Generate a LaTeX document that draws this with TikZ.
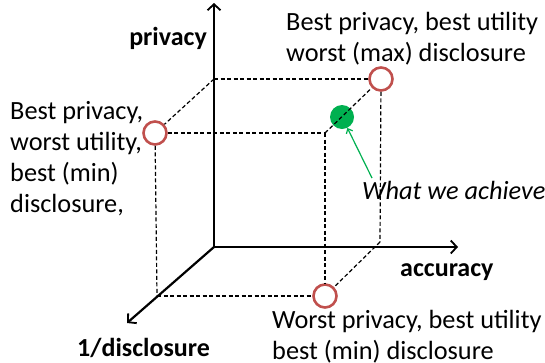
\documentclass[tikz,border=0pt]{standalone}
\usepackage{fontspec}
\setmainfont{Carlito}
\usetikzlibrary{arrows.meta}
\definecolor{cred}{HTML}{C0504D}
\definecolor{cgreen}{HTML}{00B050}
\begin{document}
\begin{tikzpicture}[x=1pt,y=-1pt,
 axis/.style={line width=2.2pt,-{Straight Barb[length=6pt,width=13pt,line width=1.8pt]}},
 edge/.style={line width=1.2pt, dash pattern=on 4pt off 2.5pt},
 ring/.style={circle, draw=cred, fill=white, line width=2.6pt, minimum size=23pt, inner sep=0pt},
 dot/.style={circle, fill=cgreen, minimum size=24pt, inner sep=0pt},
 lbl/.style={font=\fontsize{26.3}{31}\selectfont, anchor=base west, inner sep=0pt, align=left},
 ax/.style={font=\bfseries\fontsize{26}{31}\selectfont, inner sep=0pt}]
\useasboundingbox (0,0) rectangle (545,362);
% cube corners
\coordinate (O) at (214,247);
\coordinate (ptip) at (214,3);
\coordinate (atip) at (458,247);
\coordinate (dtip) at (127,323);
\coordinate (bt) at (214,79);
\coordinate (rb) at (380,242);
\coordinate (ftr) at (325,133);
\coordinate (fbl) at (157,296);
% points
\node[dot] (G) at (342,117) {};
\node[ring] (TR) at (381,79) {};
\node[ring] (TL) at (155,133) {};
\node[ring] (BR) at (325,296) {};
% dashed cube edges
\draw[edge] (bt) -- (TR);
\draw[edge] (bt) -- (TL);
\draw[edge] (TL) -- (ftr);
\draw[edge] (TL) -- (fbl);
\draw[edge] (fbl) -- (BR);
\draw[edge] (ftr) -- (BR);
\draw[edge] (ftr) -- (TR);
\draw[edge] (TR) -- (rb);
\draw[edge] (rb) -- (BR);
% axes
\draw[axis] (O) -- (ptip);
\draw[axis] (O) -- (atip);
\draw[axis] (O) -- (dtip);
% labels
\node[ax, anchor=base east] (lp) at (207,45) {privacy};
\node[ax, anchor=base west] (la) at (400,276) {accuracy};
\node[ax, anchor=base west] (ld) at (77,356) {1/disclosure};
\node[lbl] (ttr) at (286,61) {Best privacy, best utility\\worst (max) disclosure};
\node[lbl] (ttl) at (10,212) {Best privacy,\\worst utility,\\best (min)\\disclosure,};
\node[lbl] (tbr) at (272,359) {Worst privacy, best utility\\best (min) disclosure};
\node[lbl, font=\itshape\fontsize{26.3}{31}\selectfont] (tw) at (362,199) {What we achieve};
\coordinate (gt) at (372,178);
\draw[cgreen, line width=1.2pt, -{Straight Barb[length=4pt,width=7pt]}] (gt) -- (G);
\end{tikzpicture}
\end{document}
